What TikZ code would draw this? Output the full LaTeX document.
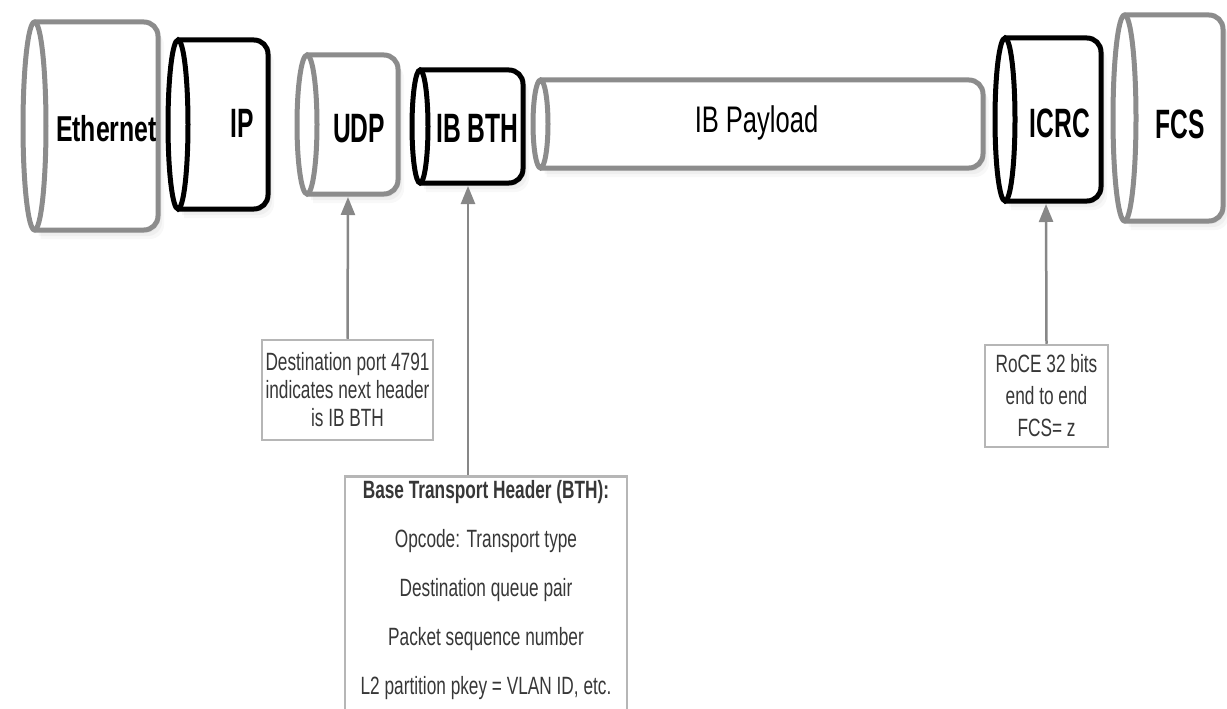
\documentclass[tikz,border=0pt]{standalone}
\usepackage{fontspec}
\setmainfont{Liberation Sans}
\newfontfamily\narrowfont[FakeStretch=0.69]{Liberation Sans}
\newfontfamily\condfont[FakeStretch=0.6]{Liberation Sans}
\usetikzlibrary{arrows.meta,shadows}
\definecolor{cylgray}{RGB}{140,140,140}
\definecolor{notegray}{RGB}{182,182,182}
\definecolor{notetext}{RGB}{55,55,55}
\definecolor{arrowgray}{RGB}{135,135,135}

\tikzset{
  graycyl/.style={draw=cylgray, line width=5pt},
  blackcyl/.style={draw=black, line width=5pt},
  cylshadow/.style={drop shadow={opacity=0.07, shadow xshift=2pt, shadow yshift=-3pt},
    drop shadow={opacity=0.07, shadow xshift=4pt, shadow yshift=-6pt},
    drop shadow={opacity=0.06, shadow xshift=6pt, shadow yshift=-9pt}},
  cyllabel/.style={anchor=base, font=\condfont\bfseries\fontsize{41}{41}\selectfont},
  notebox/.style={draw=notegray, line width=2.5pt, inner sep=0pt, align=center, text=notetext,
    font=\narrowfont\fontsize{25}{28}\selectfont},
  callarrow/.style={draw=arrowgray, line width=2.5pt, -{Triangle[width=14pt,length=18pt]}}
}

% packet cylinder: style, left, right, top, bottom, end radius
\newcommand{\pcyl}[6]{%
  \filldraw[#1, fill=white, rounded corners=14pt, cylshadow] ({#2+#6},#4) -- (#3,#4) -- (#3,#5) -- ({#2+#6},#5);
  \filldraw[#1, fill=white] ({#2+#6},{(#4+#5)/2}) ellipse [x radius=#6, y radius={(#5-#4)/2}];
}

\begin{document}
\begin{tikzpicture}[x=1pt,y=-1pt]
\useasboundingbox (0,0) rectangle (1227,709);
\clip (0,0) rectangle (1227,709);
% header cylinders
\pcyl{graycyl}{23}{158}{22}{230}{11.5}
\pcyl{blackcyl}{168}{268}{40}{209}{10}
\pcyl{graycyl}{297}{398}{55}{194}{10}
\pcyl{blackcyl}{412}{523}{70}{183}{8}
\pcyl{graycyl}{533}{983}{80}{168}{7.5}
\pcyl{blackcyl}{995}{1101}{38}{201}{10}
\pcyl{graycyl}{1113}{1223}{15}{221}{11.5}
\node[cyllabel, font=\narrowfont\bfseries\fontsize{36}{36}\selectfont] (eth) at (106.5,141) {Ethernet};
\node[cyllabel] (ip) at (242,137) {IP};
\node[cyllabel] (udp) at (359,142) {UDP};
\node[cyllabel] (bth) at (477.5,142) {IB BTH};
\node[anchor=base, font=\narrowfont\fontsize{37}{37}\selectfont] (payload) at (756.5,132) {IB Payload};
\node[cyllabel] (icrc) at (1060,137) {ICRC};
\node[cyllabel] (fcs) at (1180,138) {FCS};
\coordinate (udp-b) at (348,197);
\coordinate (bth-b) at (468,186);
\coordinate (icrc-b) at (1046,204);
% notes
\node[notebox, minimum width=171pt, minimum height=100pt] (udpnote) at (347.5,390)
  {Destination port 4791\\indicates next header\\is IB BTH};
\node[notebox, anchor=north, minimum width=282pt, minimum height=262pt] (bthnote) at (486,475) {};
\node[align=center, text=notetext, font=\narrowfont\fontsize{25}{49}\selectfont] (bthtext) at (486,590.5)
  {\textbf{Base Transport Header (BTH):}\\Opcode: Transport type\\Destination queue pair\\Packet sequence number\\L2 partition pkey = VLAN ID, etc.};
\node[notebox, font=\narrowfont\fontsize{25}{32}\selectfont, minimum width=123pt, minimum height=102pt] (icrcnote) at (1046.5,396)
  {RoCE 32 bits\\end to end\\FCS= z};
% pointers
\draw[callarrow] (udpnote.north) -- (udp-b);
\draw[callarrow] (bthnote.north -| bth-b) -- (bth-b);
\draw[callarrow] (icrcnote.north) -- (icrc-b);
\end{tikzpicture}
\end{document}
